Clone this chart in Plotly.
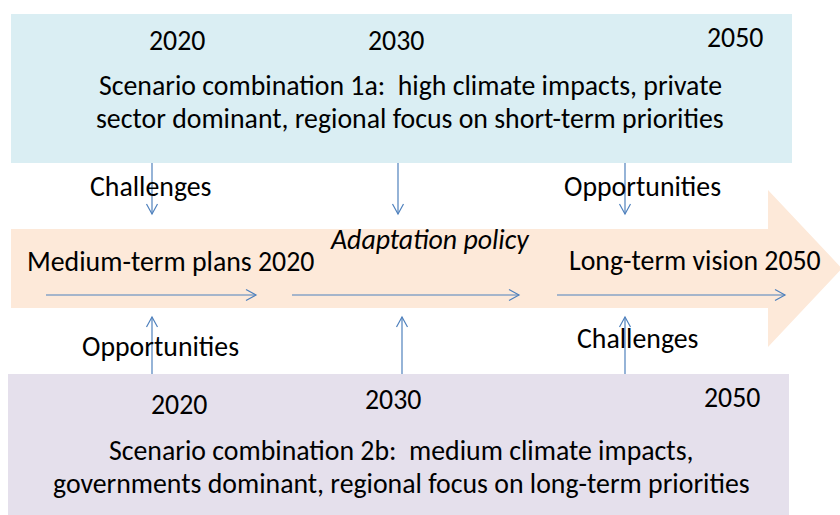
import plotly.graph_objects as go

# ---- content ----
top_years = ["2020", "2030", "2050"]
bottom_years = ["2020", "2030", "2050"]
top_scenario_lines = [
    "Scenario combination 1a:\u00a0 high climate impacts, private",
    "sector dominant, regional focus on short-term priorities",
]
bottom_scenario_lines = [
    "Scenario combination 2b:\u00a0 medium climate impacts,",
    "governments dominant, regional focus on long-term priorities",
]
timeline_labels = ["Medium-term plans 2020", "Long-term vision 2050"]
policy_label = "Adaptation policy"
top_flow_labels = ["Challenges", "Opportunities"]
bottom_flow_labels = ["Opportunities", "Challenges"]

# ---- layout (pixel coordinates of the page, y downwards) ----
W, H = 840, 515
FONT = "Carlito, Calibri, Lato, sans-serif"
FS = 27.8
ARROW_COLOR = "#4F81BD"
TOP_FILL = "#DAEEF3"
BOTTOM_FILL = "#E5E0EC"
BAND_FILL = "#FDE9D9"

top_box = (11, 14, 792, 163)
bottom_box = (8, 374, 789, 520)
band = dict(x0=11, y0=229, x1=768, y1=308, head_y0=190, head_y1=347, tip_x=842)

top_year_pos = [(177, 40.5), (396, 40.5), (735, 37.5)]
bottom_year_pos = [(179, 404.5), (393, 399.5), (732, 397)]
top_line_pos = [(410, 85), (410, 118)]
bottom_line_pos = [(401, 450.5), (401, 483)]
timeline_pos = [(170, 261.5), (695, 260.5)]
policy_pos = (430, 239.5)
top_flow_pos = [(151, 186), (642, 186)]
bottom_flow_pos = [(160, 346.5), (638, 338.5)]

down_arrows = [(152, 163, 214), (398, 163, 214), (625, 163, 214)]
up_arrows = [(152, 374, 317), (402, 374, 317), (625, 374, 317)]
right_arrows = [(46, 256, 295), (292, 519, 295), (557, 785, 295)]

fig = go.Figure()
shapes = []
annotations = []

for (x0, y0, x1, y1), fill in [(top_box, TOP_FILL), (bottom_box, BOTTOM_FILL)]:
    shapes.append(dict(type="rect", x0=x0, y0=y0, x1=x1, y1=y1,
                       fillcolor=fill, line=dict(width=0), layer="below"))

mid = (band["y0"] + band["y1"]) / 2
arrow_path = (f"M {band['x0']} {band['y0']} L {band['x1']} {band['y0']} "
              f"L {band['x1']} {band['head_y0']} L {band['tip_x']} {mid} "
              f"L {band['x1']} {band['head_y1']} L {band['x1']} {band['y1']} "
              f"L {band['x0']} {band['y1']} Z")
shapes.append(dict(type="path", path=arrow_path, fillcolor=BAND_FILL,
                   line=dict(width=0), layer="below"))

line_style = dict(color=ARROW_COLOR, width=1.2)
HL, HW = 10, 5.5

def add_arrow(x0, y0, x1, y1):
    shapes.append(dict(type="line", x0=x0, y0=y0, x1=x1, y1=y1, line=line_style))
    dx, dy = x1 - x0, y1 - y0
    L = (dx * dx + dy * dy) ** 0.5
    ux, uy = dx / L, dy / L
    px, py = -uy, ux
    bx, by = x1 - ux * HL, y1 - uy * HL
    p = (f"M {bx + px * HW} {by + py * HW} L {x1} {y1} "
         f"L {bx - px * HW} {by - py * HW}")
    shapes.append(dict(type="path", path=p, line=line_style))

for x, ya, yb in down_arrows + up_arrows:
    add_arrow(x, ya, x, yb)
for xa, xb, y in right_arrows:
    add_arrow(xa, y, xb, y)

def add_text(text, pos, italic=False, size=FS):
    t = f"<i>{text}</i>" if italic else text
    annotations.append(dict(text=t, x=pos[0], y=pos[1], xref="x", yref="y",
                            showarrow=False, xanchor="center", yanchor="middle",
                            font=dict(family=FONT, size=size, color="#000000")))

for t, p in zip(top_years, top_year_pos):
    add_text(t, p)
for t, p in zip(bottom_years, bottom_year_pos):
    add_text(t, p)
for t, p in zip(top_scenario_lines, top_line_pos):
    add_text(t, p)
for t, p in zip(bottom_scenario_lines, bottom_line_pos):
    add_text(t, p)
for t, p in zip(timeline_labels, timeline_pos):
    add_text(t, p)
add_text(policy_label, policy_pos, italic=True)
for t, p in zip(top_flow_labels, top_flow_pos):
    add_text(t, p)
for t, p in zip(bottom_flow_labels, bottom_flow_pos):
    add_text(t, p)

fig.update_layout(
    width=W, height=H,
    margin=dict(l=0, r=0, t=0, b=0),
    paper_bgcolor="white", plot_bgcolor="white",
    xaxis=dict(range=[0, W], visible=False, fixedrange=True),
    yaxis=dict(range=[H, 0], visible=False, fixedrange=True),
    shapes=shapes, annotations=annotations,
    showlegend=False,
)

# remove the page's default body margin so the figure fills the window
fig.write_html(
    "out.html",
    config={"displayModeBar": False},
    post_script="document.body.style.margin='0px';"
                "document.body.style.overflow='hidden';",
)
